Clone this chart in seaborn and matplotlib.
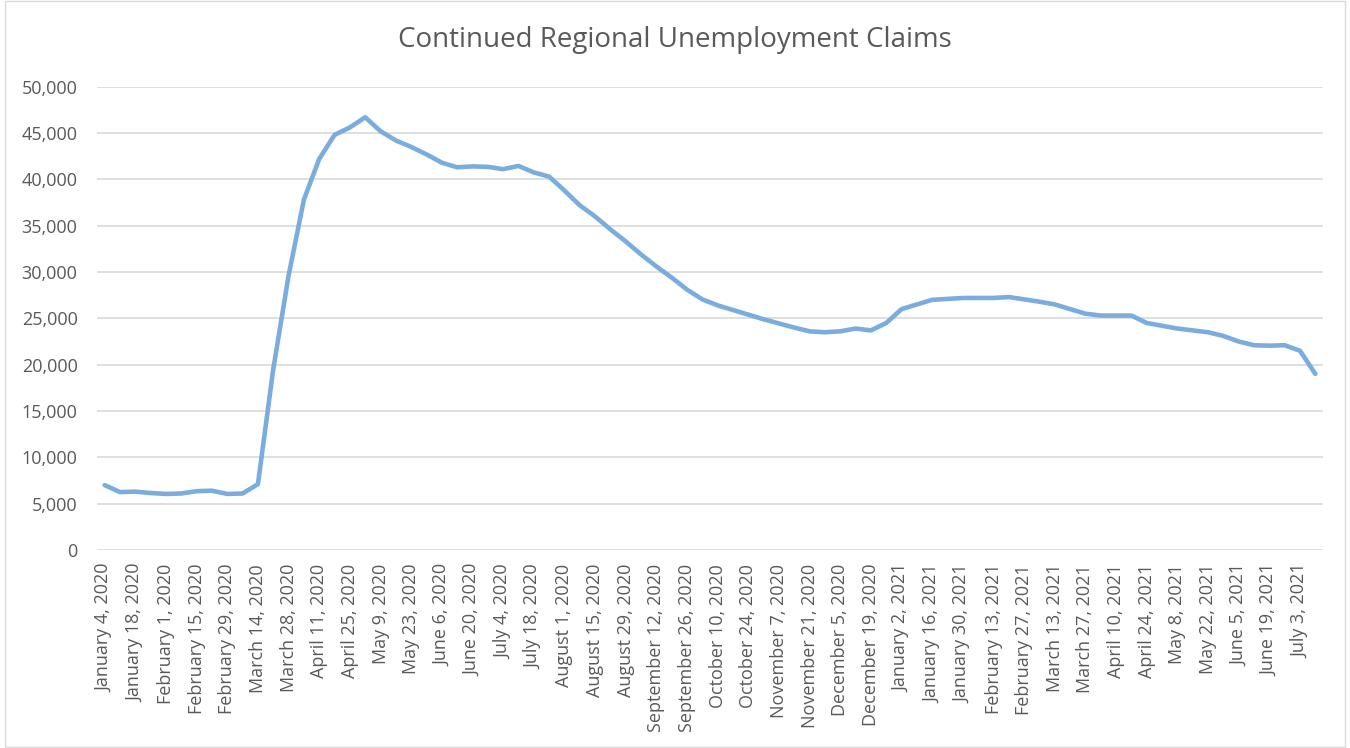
import pandas as pd
import seaborn as sns
import matplotlib.pyplot as plt
from matplotlib.ticker import FuncFormatter
from matplotlib.patches import Rectangle

# Weekly dates (Saturday week ending), Jan 4 2020 .. Jul 10 2021
weeks = pd.date_range("2020-01-04", "2021-07-10", freq="7D")
week_labels = [f"{d:%B} {d.day}, {d.year}" for d in weeks]

# Continued claims
claims = [
    7000, 6250, 6300, 6150, 6050, 6100, 6350, 6400, 6050, 6100,
    7100, 19500, 29600, 37800, 42200, 44800, 45600, 46700, 45200, 44200,
    43500, 42700, 41800, 41300, 41400, 41350, 41100, 41450, 40750, 40300,
    38800, 37200, 36000, 34600, 33300, 31900, 30600, 29400, 28100, 27050,
    26400, 25900, 25400, 24900, 24450, 24000, 23600, 23500, 23600, 23900,
    23700, 24500, 26000, 26500, 27000, 27100, 27200, 27200, 27200, 27300,
    27050, 26800, 26500, 26000, 25500, 25300, 25300, 25300, 24500, 24200,
    23900, 23700, 23500, 23100, 22500, 22100, 22050, 22100, 21500, 19000,
]

df = pd.DataFrame({"idx": range(len(claims)), "week": week_labels, "claims": claims})

sns.set_theme(style="white")
plt.rcParams['font.family'] = ['Open Sans', 'DejaVu Sans']

fig = plt.figure(figsize=(13.5, 7.48), dpi=100)
ax = fig.add_axes([97 / 1350, 198 / 748, 1226 / 1350, (550 - 86.7) / 748])

sns.lineplot(data=df, x="idx", y="claims", ax=ax, color="#7aadde", linewidth=3.3)

ax.set_xlim(-0.5, len(claims) - 0.5)
ax.set_ylim(0, 50000)
ax.set_yticks(range(0, 50001, 5000))
ax.yaxis.set_major_formatter(FuncFormatter(lambda v, p: f"{int(v):,}"))
ax.set_xticks(df["idx"][::2])
ax.set_xticklabels(df["week"][::2], rotation=90)

ax.grid(axis="y", color="#d9d9d9", linewidth=1.2)
ax.set_axisbelow(True)
for s in ax.spines.values():
    s.set_visible(False)
ax.tick_params(axis="both", length=0, labelsize=13, labelcolor="#595959")
ax.tick_params(axis="y", pad=14)
ax.tick_params(axis="x", pad=10)
ax.set_xlabel("")
ax.set_ylabel("")

fig.text(0.5, 1 - 40 / 748, "Continued Regional Unemployment Claims",
         ha="center", va="center", fontsize=20, color="#595959")

# light chart-area border
fig.patches.append(Rectangle((5 / 1350, 0.002), 1340 / 1350, 0.996, transform=fig.transFigure,
                             fill=False, edgecolor="#d9d9d9", linewidth=1))

fig.savefig("out.png", dpi=100, facecolor="white")
